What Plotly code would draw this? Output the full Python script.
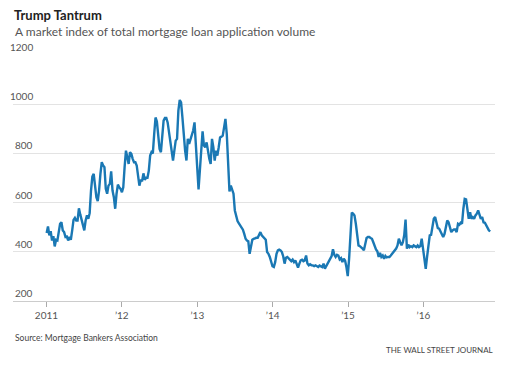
import pandas as pd
import plotly.graph_objects as go

# Weekly index values, Jan 2011 -> Nov 2016
values_2011 = [476, 503, 467, 484, 446, 464, 422, 449, 446, 487,
               514, 520, 487, 480, 460, 462, 446, 460, 449, 487,
               530, 538, 527, 527, 577, 552, 530, 514, 487, 527,
               548, 534, 557, 649, 706, 717, 676, 622, 606, 649,
               717, 764, 751, 744, 656, 636, 669, 676, 727, 649,
               622, 575, 636, 673, 662, 656, 642, 662, 744, 811,
               784, 757, 805, 798, 778, 764]
values_2012 = [764, 751, 710, 669, 693, 687, 719, 693, 701, 701,
               730, 791, 805, 800, 879, 946, 930, 879, 818, 805,
               865, 933, 944, 944, 926, 886, 832, 791, 771, 811,
               852, 859, 974, 1017, 1007, 946, 865, 811, 771, 859,
               839, 859, 879, 893, 926, 852, 744, 654, 730, 811,
               890, 832, 825, 845, 805, 778, 757, 859, 825, 771,
               811, 791, 825, 865, 868, 872, 906, 940, 879]
values_2013 = [744, 645, 669, 656, 636, 568, 541, 525, 516,
               507, 494, 490, 473, 453, 446, 443, 392, 426, 449,
               453, 456, 457, 457, 467, 480, 467, 460, 453, 449,
               399, 392, 379, 358, 341, 338, 358, 392, 406, 409,
               406, 399, 381, 352, 376, 379, 372, 368, 362,
               368, 358, 365, 345, 336, 352, 365, 368, 362, 365,
               385, 352, 345, 349, 345, 345, 342, 345, 341,
               338, 344, 341, 338, 352, 331]
values_2015 = [342, 352, 365, 372, 383, 410, 388, 379, 388, 385,
               369, 374, 358, 372, 365, 338, 301, 372, 480, 559,
               555, 548, 514, 453, 426, 423, 419, 413, 406, 433,
               456, 460, 460, 456, 453, 439, 419, 410, 402, 379,
               396, 379, 385, 372, 383, 377, 379, 379, 385, 392,
               399, 406, 413, 426, 453, 439, 426, 439, 467, 531,
               413, 429, 419, 423, 419, 426, 423, 419, 426,
               419, 423]
values_2016 = [453, 413, 365, 331, 379, 439, 467, 469, 500, 534,
               541, 520, 496, 494, 480, 467, 460, 473, 507, 527,
               520, 494, 480, 487, 491, 491, 480, 514, 510, 518,
               514, 575, 615, 613, 568, 534, 561, 534, 541, 534,
               548, 555, 568, 545, 534, 541, 520, 518, 507, 496,
               487, 483]

values = values_2011 + values_2012 + values_2013 + values_2015 + values_2016
dates = pd.date_range("2011-01-02", "2016-11-20", periods=len(values))

year_ticks = ["2011-01-01", "2012-01-01", "2013-01-01", "2014-01-01", "2015-01-01", "2016-01-01"]
year_labels = ["2011", "\u201912", "\u201913", "\u201914", "\u201915", "\u201916"]
y_ticks = [200, 400, 600, 800, 1000, 1200]

FONT = "Lato"

fig = go.Figure()
fig.add_trace(go.Scatter(x=dates, y=values, mode="lines",
                         line=dict(color="#1a78b4", width=2.4),
                         hoverinfo="skip", showlegend=False))

# page body has an 8px default margin, so the figure is 8px smaller
fig.update_layout(
    width=523, height=358,
    margin=dict(l=5, r=36, t=47, b=65),
    paper_bgcolor="white", plot_bgcolor="white",
    font=dict(family=FONT, size=10, color="#555555"),
    xaxis=dict(type="date", range=["2010-07-23", "2016-12-13"],
               tickvals=year_ticks, ticktext=year_labels,
               ticks="outside", ticklen=5, tickcolor="#aaaaaa", tickwidth=1,
               showline=True, linecolor="#cccccc", linewidth=1,
               showgrid=False, zeroline=False,
               tickfont=dict(family=FONT, size=10, color="#555555")),
    yaxis=dict(range=[200, 1200], tickvals=y_ticks,
               showticklabels=False, showgrid=True, gridcolor="#e3e3e3",
               gridwidth=1, zeroline=False, showline=False, ticks=""),
)

for v in y_ticks:
    fig.add_annotation(x=0.0456, xref="paper", y=v, yref="y",
                       text=str(v), showarrow=False, xanchor="right",
                       yanchor="bottom", yshift=0,
                       font=dict(family=FONT, size=10, color="#555555"))

fig.add_annotation(x=0, xref="paper", y=1.161, yref="paper",
                   text="<b>Trump Tantrum</b>", showarrow=False,
                   xanchor="left", yanchor="middle", borderpad=0,
                   font=dict(family=FONT, size=13, color="#222222"))
fig.add_annotation(x=0, xref="paper", y=1.0947, yref="paper",
                   text="A market index of total mortgage loan application volume",
                   showarrow=False, xanchor="left", yanchor="middle",
                   font=dict(family=FONT, size=12, color="#555555"))
fig.add_annotation(x=0, xref="paper", y=-0.150, yref="paper",
                   text="Source: Mortgage Bankers Association",
                   showarrow=False, xanchor="left", yanchor="middle",
                   font=dict(family=FONT, size=8.5, color="#444444"))
fig.add_annotation(x=1, xref="paper", y=-0.199, yref="paper",
                   text="THE WALL STREET JOURNAL",
                   showarrow=False, xanchor="right", yanchor="middle",
                   font=dict(family=FONT, size=8, color="#444444"))

fig.write_html("out.html")
